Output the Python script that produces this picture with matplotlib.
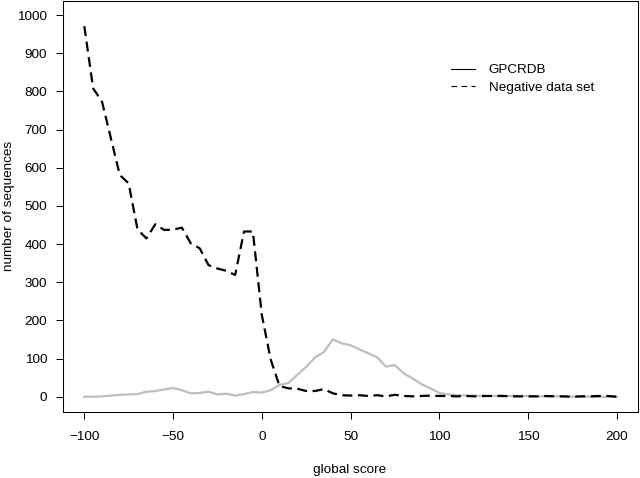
import numpy as np
import matplotlib
matplotlib.use("Agg")
import matplotlib.pyplot as plt
from matplotlib.lines import Line2D

plt.rcParams["font.family"] = ["Liberation Sans", "DejaVu Sans"]

# global score bins (step 5)
score = list(range(-100, 205, 5))

gpcrdb = [0, 0, 1, 3, 5, 6, 7, 13, 15, 19,
          23, 17, 9, 10, 13, 6, 8, 3, 7, 12,
          11, 17, 31, 36, 57, 78, 103, 117, 150, 140,
          135, 124, 114, 103, 79, 83, 61, 48, 33, 22,
          10, 6, 4, 3, 3, 2, 2, 3, 2, 2,
          2, 1, 1, 1, 1, 0, 1, 0, 0, 0, 0]

negative = [971, 808, 773, 677, 581, 559, 438, 415, 452, 437,
            438, 443, 402, 389, 345, 336, 330, 319, 433, 433,
            215, 98, 28, 22, 21, 15, 15, 20, 9, 4,
            3, 4, 2, 4, 1, 5, 2, 1, 2, 3,
            2, 2, 1, 2, 1, 2, 2, 2, 1, 1,
            1, 1, 2, 1, 1, 0, 1, 1, 2, 2, 0]

legend_labels = ["GPCRDB", "Negative data set"]
xticks = [-100, -50, 0, 50, 100, 150, 200]
yticks = list(range(0, 1001, 100))

fig = plt.figure(figsize=(6.4, 4.78), dpi=100)
ax = fig.add_axes([63/640, 66/478, 575/640, 411/478])

ax.plot(score, gpcrdb, color="#bebebe", lw=1.6)
ax.plot(score, negative, color="black", lw=1.6, ls=(0, (4.5, 2.5)))

ax.set_xlim(-112, 212)
ax.set_ylim(-40, 1037)
ax.set_xticks(xticks)
ax.set_yticks(yticks)
ax.tick_params(direction="out", length=5, width=0.75, labelsize=9.7)
ax.tick_params(axis="x", pad=8.5)
ax.tick_params(axis="y", pad=6.5)
for s in ax.spines.values():
    s.set_linewidth(0.75)

fig.text(350/640, 1 - 470/478, "global score", ha="center", va="center", fontsize=9.7)
fig.text(9/640, 1 - 206/478, "number of sequences", ha="center", va="center",
         rotation=90, fontsize=9.7)

handles = [Line2D([], [], color="black", lw=0.8),
           Line2D([], [], color="black", lw=0.8, ls=(0, (5, 4)))]
ax.legend(handles, legend_labels, frameon=False, fontsize=9.7,
          loc="upper left", bbox_to_anchor=(451/640, 1 - 64/478),
          bbox_transform=fig.transFigure, handlelength=1.75,
          handletextpad=1.05, labelspacing=0.36, borderpad=0, borderaxespad=0)

fig.savefig("out.png", dpi=100)
